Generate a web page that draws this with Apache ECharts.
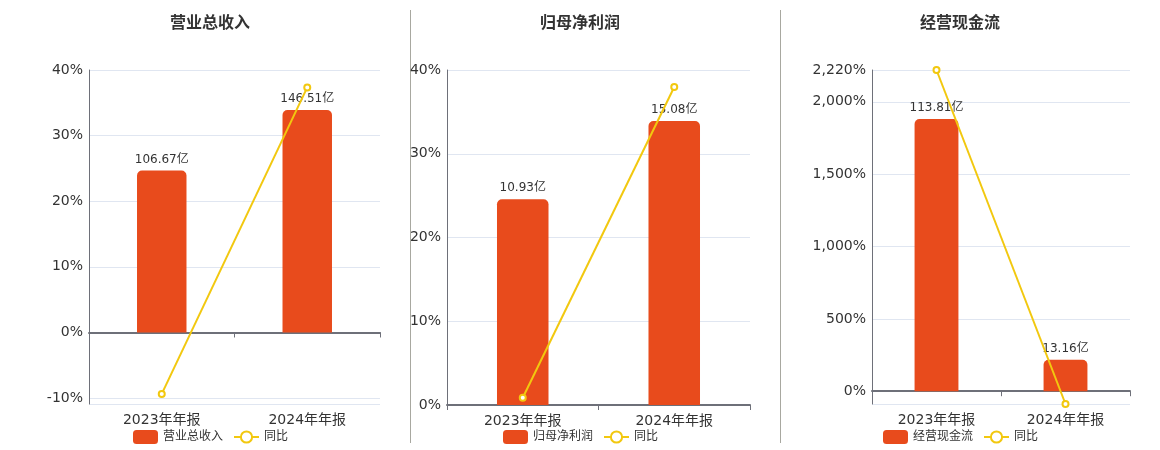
<!DOCTYPE html>
<html>
<head>
<meta charset="utf-8">
<script src="https://cdn.jsdelivr.net/npm/echarts@6/dist/echarts.min.js"></script>
<style>html,body{margin:0;padding:0;background:#fff}#c{width:1160px;height:450px}</style>
</head>
<body>
<div id="c"></div>
<script>
var categories = ['2023年年报', '2024年年报'];
var titles = ['营业总收入', '归母净利润', '经营现金流'];
var revenue = [106.67, 146.51];
var revenueYoy = [-9.36, 37.35];
var profit = [10.93, 15.08];
var profitYoy = [0.87, 37.97];
var cashflow = [113.81, 13.16];
var cashflowYoy = [2220, -88.44];
var yoyName = '同比';

var barData = [revenue, profit, cashflow];
var yoyData = [revenueYoy, profitYoy, cashflowYoy];
var pctRange = [[-10.9, 40], [0, 40], [-88.44, 2220]];
var grids = [
  {left: 89, right: 780, top: 70, bottom: 46},
  {left: 447, right: 410, top: 70, bottom: 45},
  {left: 872, right: 30, top: 70, bottom: 46}
];
var centers = [210, 580, 960];
var legendLefts = [128, 498, 878];
var FONT = 'DejaVu Sans, Noto Sans CJK SC, sans-serif';
var BAR = '#E84B1C', LINE = '#F2C80F';

var option = {
  animation: false,
  textStyle: {fontFamily: FONT},
  grid: grids,
  xAxis: [], yAxis: [], series: [], legend: [], graphic: []
};

for (var i = 0; i < 3; i++) {
  var bmax = Math.max.apply(null, barData[i]) * 1.18;
  var pr = pctRange[i];
  var bmin = pr[0] === 0 ? 0 : bmax * pr[0] / pr[1];
  option.xAxis.push({
    type: 'category', gridIndex: i, data: categories, boundaryGap: true,
    axisLine: {show: true, onZero: true, onZeroAxisIndex: i * 2, lineStyle: {color: '#6E7079', width: 2}},
    axisTick: {show: true, length: 5, lineStyle: {color: '#6E7079'}},
    axisLabel: {color: '#333', fontSize: 14, margin: 9, fontFamily: FONT}
  });
  option.yAxis.push({
    type: 'value', gridIndex: i, min: pr[0], max: pr[1],
    axisLine: {show: true, lineStyle: {color: '#6E7079'}},
    axisTick: {show: false},
    splitLine: {show: true, lineStyle: {color: '#E0E6F1'}},
    axisLabel: {color: '#333', fontSize: 14, margin: 6, fontFamily: FONT,
      showMinLabel: pr[0] === 0, showMaxLabel: true,
      formatter: function (v) { return Math.round(v).toLocaleString('en-US') + '%'; }}
  });
  option.yAxis.push({
    type: 'value', gridIndex: i, min: bmin, max: bmax, show: false,
    splitLine: {show: false}
  });
  option.series.push({
    name: titles[i], type: 'bar', xAxisIndex: i, yAxisIndex: i * 2 + 1,
    data: barData[i], barWidth: '34%', z: 2,
    itemStyle: {color: BAR, borderRadius: [5, 5, 0, 0]},
    label: {show: true, position: 'top', color: '#333', fontSize: 12, fontFamily: FONT,
      formatter: function (p) { return p.value.toFixed(2) + '亿'; }}
  });
  option.series.push({
    name: yoyName, type: 'line', xAxisIndex: i, yAxisIndex: i * 2,
    data: yoyData[i], z: 5, symbol: 'emptyCircle', symbolSize: 6,
    lineStyle: {color: LINE, width: 2}, itemStyle: {color: LINE}
  });
  option.legend.push({
    data: [titles[i], yoyName], left: legendLefts[i], top: 425,
    itemWidth: 25, itemHeight: 14, itemGap: 10,
    textStyle: {color: '#333', fontSize: 12, fontFamily: FONT}
  });
  option.graphic.push({type: 'text', x: centers[i], y: 24,
    style: {text: titles[i], fill: '#333', font: 'bold 16px ' + FONT, align: 'center', verticalAlign: 'middle'}});
}
option.graphic.push({type: 'line', shape: {x1: 410.5, y1: 10, x2: 410.5, y2: 443}, style: {stroke: '#A8A8A0', lineWidth: 1}});
option.graphic.push({type: 'line', shape: {x1: 780.5, y1: 10, x2: 780.5, y2: 443}, style: {stroke: '#A8A8A0', lineWidth: 1}});

var chart = echarts.init(document.getElementById('c'));
chart.setOption(option);
</script>
</body>
</html>
